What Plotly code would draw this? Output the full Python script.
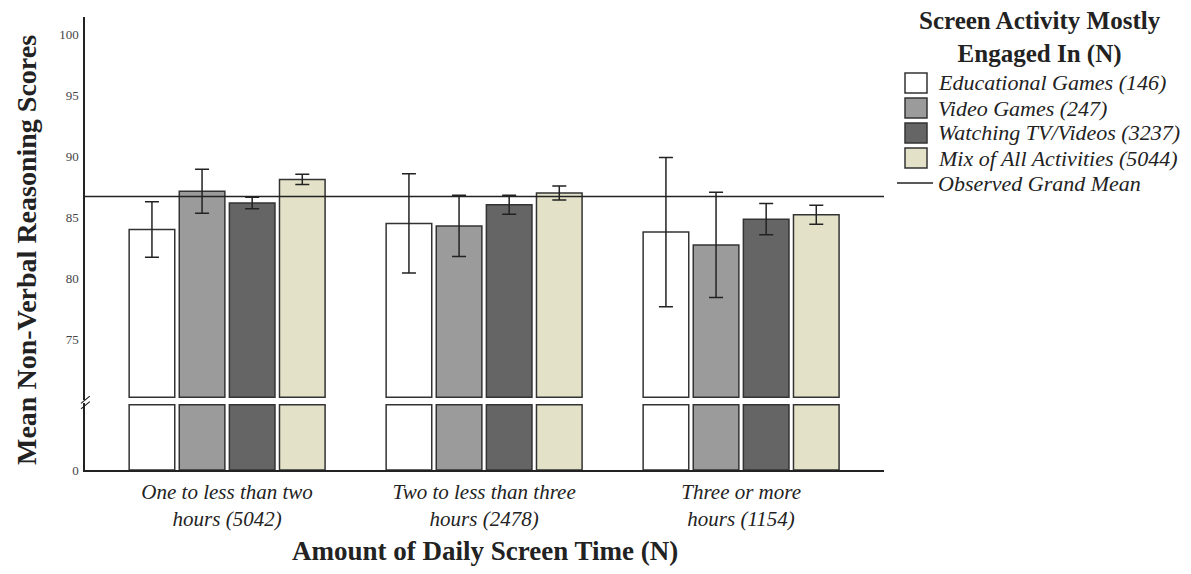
import numpy as np
import plotly.graph_objects as go

# ---------------- data ----------------
categories = [
    "One to less than two<br>hours (5042)",
    "Two to less than three<br>hours (2478)",
    "Three or more<br>hours (1154)",
]
activities = [
    "Educational Games (146)",
    "Video Games (247)",
    "Watching TV/Videos (3237)",
    "Mix of All Activities (5044)",
]
edu_mean = [84.03, 84.52, 83.81]
video_mean = [87.16, 84.32, 82.76]
tv_mean = [86.20, 86.05, 84.87]
mix_mean = [88.12, 87.01, 85.23]

edu_err = [2.27, 4.06, 6.10]
video_err = [1.80, 2.50, 4.30]
tv_err = [0.47, 0.78, 1.27]
mix_err = [0.42, 0.57, 0.77]

grand_mean = 86.73
grand_mean_label = "Observed Grand Mean"
legend_title = "Screen Activity Mostly<br>Engaged In (N)"
y_title = "Mean Non-Verbal Reasoning Scores"
x_title = "Amount of Daily Screen Time (N)"
y_ticks_upper = [75, 80, 85, 90, 95, 100]
y_ticks_lower = [0]

# axis break settings
Y_BREAK = 70.0          # value where the lower segment is cut
UPPER_RANGE = [70.1, 101.4]
UPPER_BASE = 70.3
LOWER_RANGE = [0, 72]

fills = ["#ffffff", "#9b9b9b", "#656565", "#e3e2c9"]
means = [edu_mean, video_mean, tv_mean, mix_mean]
errs = [edu_err, video_err, tv_err, mix_err]

SERIF = "Liberation Serif, Times New Roman, serif"
INK = "#222222"
EDGE = "#333333"

# page geometry (the html body adds an 8px margin)
BODY = 8
W, H = 1191, 574
PL, PR, PT, PB = 85, 884, 17, 470   # plot area in window pixels


def px(xp):
    return (xp - PL) / (PR - PL)


def py(yp):
    return (PB - yp) / (PB - PT)


fig = go.Figure()

for name, m, e, c in zip(activities, means, errs, fills):
    m = np.array(m)
    fig.add_trace(go.Bar(
        x=categories, y=m - UPPER_BASE, base=UPPER_BASE,
        name=name, marker=dict(color=c, line=dict(color=EDGE, width=1.5)),
        error_y=dict(type="data", array=e, visible=True, color=INK,
                     thickness=1.5, width=7),
        xaxis="x", yaxis="y",
    ))

for name, m, c in zip(activities, means, fills):
    fig.add_trace(go.Bar(
        x=categories, y=np.minimum(np.array(m), Y_BREAK),
        name=name, marker=dict(color=c, line=dict(color=EDGE, width=1.5)),
        xaxis="x", yaxis="y2",
    ))

fig.add_shape(type="line", xref="x domain", x0=0, x1=1, yref="y",
              y0=grand_mean, y1=grand_mean, line=dict(color=INK, width=1.5))

# axis break marks
for dy in (0.0, -0.012):
    fig.add_shape(type="line", xref="paper", yref="paper",
                  x0=-0.005, x1=0.006, y0=0.147 + dy, y1=0.163 + dy,
                  line=dict(color=INK, width=1.2))

# axis titles
fig.add_annotation(
    text="<b>%s</b>" % y_title, textangle=-90,
    xref="paper", yref="paper", x=px(27), y=py(250),
    xanchor="center", yanchor="middle", showarrow=False,
    font=dict(family=SERIF, size=28, color=INK),
)
fig.add_annotation(
    text="<b>%s</b>" % x_title,
    xref="paper", yref="paper", x=0.5, y=py(551),
    xanchor="center", yanchor="middle", showarrow=False,
    font=dict(family=SERIF, size=27, color=INK),
)

# legend (drawn manually for spacing)
fig.add_annotation(
    text="<b>%s</b>" % legend_title, xref="paper", yref="paper",
    x=px(1040), y=py(37), xanchor="center", yanchor="middle",
    showarrow=False, font=dict(family=SERIF, size=25, color=INK),
)
row_y = 83
row_step = 25
for i, (name, c) in enumerate(zip(activities, fills)):
    yc = row_y + row_step * i
    fig.add_shape(type="rect", xref="paper", yref="paper",
                  x0=px(905), x1=px(927), y0=py(yc + 10), y1=py(yc - 10),
                  fillcolor=c, line=dict(color=EDGE, width=1.5))
    fig.add_annotation(
        text=name, xref="paper", yref="paper", x=px(936), y=py(yc),
        xanchor="left", yanchor="middle", showarrow=False,
        font=dict(family=SERIF, size=22, style="italic", color=INK),
    )
yc = row_y + row_step * len(activities)
fig.add_shape(type="line", xref="paper", yref="paper",
              x0=px(897), x1=px(933), y0=py(yc), y1=py(yc),
              line=dict(color=INK, width=1.5))
fig.add_annotation(
    text=grand_mean_label, xref="paper", yref="paper", x=px(936), y=py(yc),
    xanchor="left", yanchor="middle", showarrow=False,
    font=dict(family=SERIF, size=22, style="italic", color=INK),
)

fig.update_layout(
    width=W - BODY, height=H - BODY,
    margin=dict(l=PL - BODY, r=W - PR, t=PT - BODY, b=H - PB,
                autoexpand=False),
    paper_bgcolor="white", plot_bgcolor="white",
    barmode="group", bargap=0.22, bargroupgap=0.09,
    showlegend=False,
    font=dict(family=SERIF, color=INK),
    xaxis=dict(
        type="category", range=[-0.553, 2.556], anchor="y2",
        showline=True, linecolor=INK, linewidth=1.5,
        showgrid=False, zeroline=False,
        ticks="outside", ticklen=2, tickcolor="rgba(0,0,0,0)",
        tickfont=dict(family=SERIF, size=21, style="italic", color=INK),
    ),
    yaxis=dict(
        domain=[0.155, 1.0], range=UPPER_RANGE, anchor="x",
        tickvals=y_ticks_upper, showline=True, linecolor=INK, linewidth=1.5,
        showgrid=False, zeroline=False, ticks="outside", ticklen=2,
        tickcolor="rgba(0,0,0,0)",
        tickfont=dict(family=SERIF, size=13, color="#444444"),
    ),
    yaxis2=dict(
        domain=[0.0, 0.1479], range=LOWER_RANGE, anchor="x",
        tickvals=y_ticks_lower, showline=True, linecolor=INK, linewidth=1.5,
        showgrid=False, zeroline=False, ticks="outside", ticklen=2,
        tickcolor="rgba(0,0,0,0)",
        tickfont=dict(family=SERIF, size=13, color="#444444"),
    ),
)

fig.write_html("out.html")
